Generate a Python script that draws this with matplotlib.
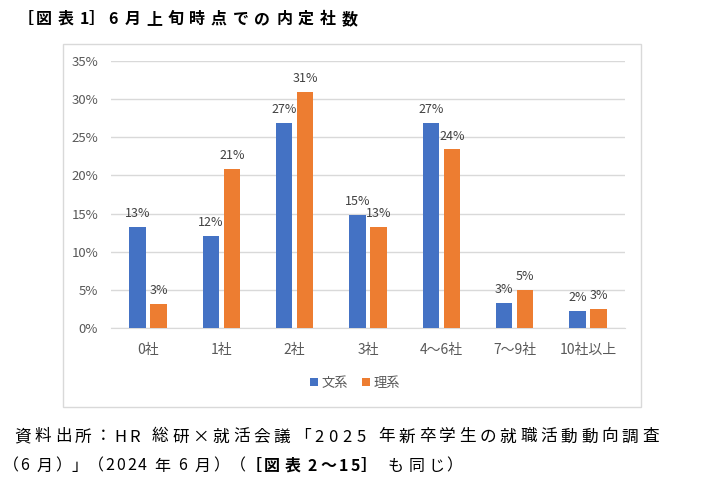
import unicodedata
import numpy as np
import matplotlib
matplotlib.use("Agg")
import matplotlib.pyplot as plt
from matplotlib.patches import Rectangle

plt.rcParams['font.family'] = ['Noto Sans CJK JP', 'DejaVu Sans']

W, H = 705, 482

categories = ['0社', '1社', '2社', '3社', '4～6社', '7～9社', '10社以上']
bunkei = [13.2, 12.1, 26.9, 14.8, 26.9, 3.3, 2.2]
rikei = [3.2, 20.9, 31.0, 13.3, 23.4, 5.0, 2.5]
bunkei_labels = ['13%', '12%', '27%', '15%', '27%', '3%', '2%']
rikei_labels = ['3%', '21%', '31%', '13%', '24%', '5%', '3%']
yticks = [0, 5, 10, 15, 20, 25, 30, 35]

title = '［図表 1］ 6 月上旬時点での内定社数'
source1 = '資料出所：HR 総研×就活会議「2025 年新卒学生の就職活動動向調査'
source2 = [('（6 月）」（2024 年 6 月）（', 'normal'), ('［図表 2～15］', 'bold'), ('  も同じ）', 'normal')]

blue = '#4472C4'
orange = '#ED7D31'

BRACKETS = '（「［）」］'


def spaced_text(fig, x0, y, segments, fw, hw, sp, size, bw=None):
    # draw text char by char on a fixed pitch, like the wide-spaced original
    x = x0
    for text, weight in segments:
        for ch in text:
            if ch == ' ':
                x += sp
                continue
            if bw is not None and ch in BRACKETS:
                adv = bw
            elif unicodedata.east_asian_width(ch) in 'WFA':
                adv = fw
            else:
                adv = hw
            fig.text((x + adv / 2) / W, 1 - y / H, ch, fontsize=size, fontweight=weight,
                     ha='center', va='center', color='black')
            x += adv


fig = plt.figure(figsize=(W / 100, H / 100), dpi=100)
ax = fig.add_axes([111.3 / W, 1 - 328 / H, (624.7 - 111.3) / W, (328 - 61) / H])

# chart frame
fig.patches.append(Rectangle((63 / W, 1 - 407 / H), (641 - 63) / W, (407 - 44) / H,
                             transform=fig.transFigure, fill=False, edgecolor='#D9D9D9', lw=1))

x = np.arange(len(categories))
w = 0.225
off = 0.143
b1 = ax.bar(x - off, bunkei, w, color=blue, label='文系', zorder=3)
b2 = ax.bar(x + off, rikei, w, color=orange, label='理系', zorder=3)

for i in range(len(categories)):
    ax.annotate(bunkei_labels[i], (x[i] - off, bunkei[i]), xytext=(0, 5), textcoords='offset points',
                ha='center', va='bottom', fontsize=9, color='#404040')
    ax.annotate(rikei_labels[i], (x[i] + off, rikei[i]), xytext=(0, 5), textcoords='offset points',
                ha='center', va='bottom', fontsize=9, color='#404040')

ax.set_xlim(-0.5, len(categories) - 0.5)
ax.set_ylim(0, 35)
ax.set_yticks(yticks)
ax.set_yticklabels([f'{t}%' for t in yticks])
ax.set_xticks(x)
ax.set_xticklabels(categories)
ax.tick_params(axis='both', length=0, labelcolor='#595959')
ax.tick_params(axis='y', pad=9.5, labelsize=9.5)
ax.tick_params(axis='x', pad=11, labelsize=10)
ax.yaxis.grid(True, color='#D9D9D9', lw=1, zorder=0)
for s in ['top', 'right', 'left']:
    ax.spines[s].set_visible(False)
ax.spines['bottom'].set_color('#D9D9D9')

fig.legend(handles=[b1, b2], loc='center', bbox_to_anchor=(355 / W, 1 - 383 / H), ncol=2,
           frameon=False, fontsize=9.5, labelcolor='#595959', handlelength=0.6, handleheight=0.6,
           handletextpad=0.3, columnspacing=1.0)

spaced_text(fig, 18, 19, [(title, 'bold')], fw=21.7, hw=9, sp=4, size=11.5, bw=15)
spaced_text(fig, 12.3, 437, [(source1, 'normal')], fw=20.3, hw=14, sp=8, size=12)
spaced_text(fig, 3, 466, source2, fw=20.3, hw=11, sp=4.5, size=11.5, bw=16.3)

fig.savefig('out.png', dpi=100)
